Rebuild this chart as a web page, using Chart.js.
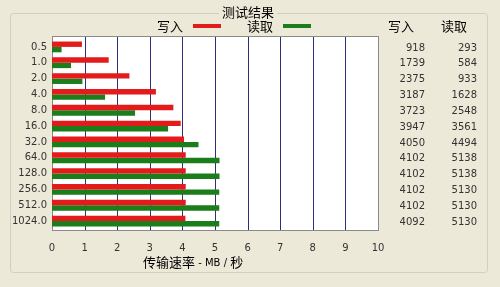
<!DOCTYPE html>
<html>
<head>
<meta charset="utf-8">
<script src="https://cdn.jsdelivr.net/npm/chart.js@4/dist/chart.umd.min.js"></script>
<style>
  body { margin: 0; background: #ECE9D8; }
  canvas { display: block; }
</style>
</head>
<body>
<canvas id="speedChart" width="500" height="287"></canvas>
<script>
// block sizes (KB) and measured speeds (KB/s)
const sizes = ['0.5', '1.0', '2.0', '4.0', '8.0', '16.0', '32.0', '64.0', '128.0', '256.0', '512.0', '1024.0'];
const writeKB = [918, 1739, 2375, 3187, 3723, 3947, 4050, 4102, 4102, 4102, 4102, 4092];
const readKB = [293, 584, 933, 1628, 2548, 3561, 4494, 5138, 5138, 5130, 5130, 5130];
const xTicks = [0, 1, 2, 3, 4, 5, 6, 7, 8, 9, 10];

const writeLabel = '写入';
const readLabel = '读取';
const chartTitle = '测试结果';
const axisTitle = '传输速率 - MB / 秒';

const RED = '#E41B1B';
const GREEN = '#1B7E1B';
const NAVY = '#2E2E7E';
const CJK = '"Noto Sans CJK SC", sans-serif';
const LAT = '"DejaVu Sans", sans-serif';

const decor = {
    id: 'decor',
    beforeDraw(chart) {
        const c = chart.ctx;
        const xs = chart.scales.x;
        c.save();
        c.fillStyle = '#ECE9D8';
        c.fillRect(0, 0, chart.width, chart.height);

        // group box
        c.strokeStyle = '#D0D0BF';
        c.lineWidth = 1;
        c.beginPath();
        c.roundRect(10.5, 13.5, 477, 259, 3);
        c.stroke();

        // plot frame
        const left = xs.getPixelForValue(0), right = xs.getPixelForValue(10);
        c.fillStyle = '#fff';
        c.fillRect(left, 36, right - left, 195);
        c.strokeStyle = NAVY;
        xTicks.forEach(t => {
            if (t === 0) return;
            const px = Math.round(xs.getPixelForValue(t)) + 0.5;
            c.beginPath();
            c.moveTo(px, 36);
            c.lineTo(px, 231);
            c.stroke();
        });
        c.strokeStyle = '#8A8A8A';
        c.strokeRect(Math.round(left) + 0.5, 36.5, Math.round(right - left), 194);

        // title on the group box line
        c.font = '13px ' + CJK;
        c.textBaseline = 'middle';
        c.textAlign = 'center';
        const tw = c.measureText(chartTitle).width;
        c.fillStyle = '#ECE9D8';
        c.fillRect(248 - tw / 2 - 3, 4, tw + 6, 16);
        c.fillStyle = '#000';
        c.fillText(chartTitle, 248, 12);

        // legend
        c.textAlign = 'left';
        c.fillText(writeLabel, 157, 26);
        c.fillText(readLabel, 247, 26);
        c.fillStyle = RED;
        c.fillRect(193, 24, 28, 4);
        c.fillStyle = GREEN;
        c.fillRect(283, 24, 28, 4);

        // right table headers
        c.fillStyle = '#000';
        c.fillText(writeLabel, 388, 26);
        c.fillText(readLabel, 441, 26);

        // axis title
        c.font = '13px ' + CJK;
        c.fillText(axisTitle.split(' - ')[0], 143, 262);
        const w1 = c.measureText(axisTitle.split(' - ')[0]).width;
        c.font = '10px ' + LAT;
        c.fillText(' - MB / ', 143 + w1, 263);
        const w2 = c.measureText(' - MB / ').width;
        c.font = '13px ' + CJK;
        c.fillText('秒', 143 + w1 + w2, 262);
        c.restore();
    },
    afterDraw(chart) {
        const c = chart.ctx;
        const ys = chart.scales.y;
        c.save();
        c.font = '10px ' + LAT;
        c.fillStyle = '#333';
        c.textAlign = 'right';
        c.textBaseline = 'middle';
        sizes.forEach((s, i) => {
            const py = ys.getPixelForValue(i) + 1;
            c.fillText(String(writeKB[i]), 425, py);
            c.fillText(String(readKB[i]), 477, py);
        });
        c.restore();
    }
};

const ctx = document.getElementById('speedChart').getContext('2d');
const speedChart = new Chart(ctx, {
    type: 'bar',
    data: {
        labels: sizes,
        datasets: [{
            label: writeLabel,
            data: writeKB.map(v => v / 1000),
            backgroundColor: RED,
            borderWidth: 0
        }, {
            label: readLabel,
            data: readKB.map(v => v / 1000),
            backgroundColor: GREEN,
            borderWidth: 0
        }]
    },
    options: {
        indexAxis: 'y',
        responsive: false,
        animation: false,
        categoryPercentage: 0.68,
        barPercentage: 1.0,
        layout: { padding: { top: 39, right: 122, left: 0, bottom: 0 } },
        plugins: {
            legend: { display: false },
            tooltip: { enabled: false }
        },
        scales: {
            x: {
                min: 0,
                max: 10,
                afterFit: s => { s.height = 58; },
                afterBuildTicks: s => { s.ticks = xTicks.map(v => ({ value: v })); },
                grid: { display: false, drawTicks: false },
                border: { display: false },
                ticks: { color: '#333', padding: 13, font: { family: 'DejaVu Sans', size: 10 } }
            },
            y: {
                afterFit: s => { s.width = 52; },
                grid: { display: false, drawTicks: false },
                border: { display: false },
                ticks: { color: '#333', padding: 5, font: { family: 'DejaVu Sans', size: 10 } }
            }
        }
    },
    plugins: [decor]
});
</script>
</body>
</html>
